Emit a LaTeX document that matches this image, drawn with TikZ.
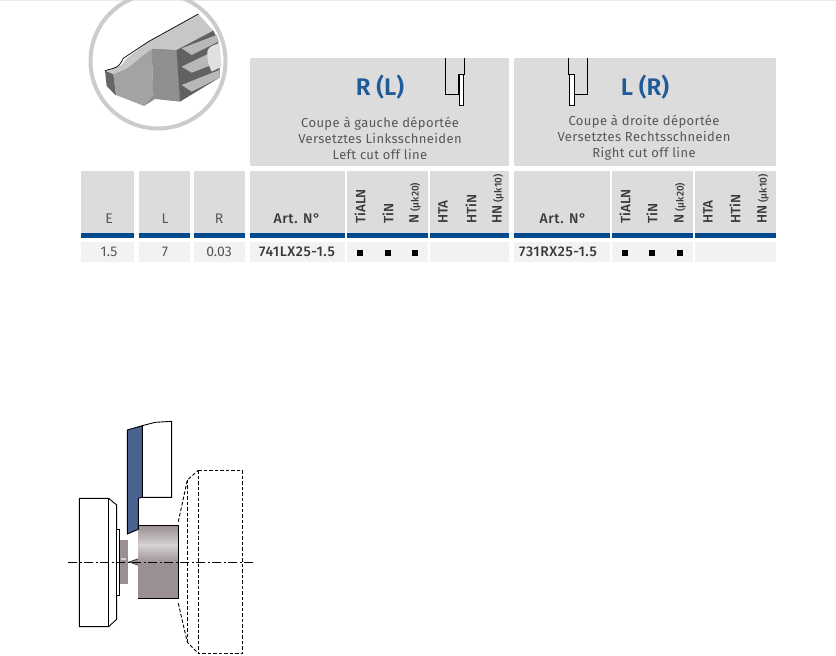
\documentclass[tikz,border=0pt]{standalone}
\usepackage{fontspec}
\setmainfont{Fira Sans}[LetterSpace=3]
\newfontfamily\plainfont{Fira Sans}
\newfontfamily\headfont[LetterSpace=4]{Fira Sans Medium}
\newfontfamily\titlefont{Fira Sans SemiBold}
\newfontfamily\rotfont{Fira Sans Medium}
\definecolor{cellgrey}{HTML}{DCDCDC}
\definecolor{datagrey}{HTML}{F2F2F2}
\definecolor{bandblue}{HTML}{004B8D}
\definecolor{titleblue}{HTML}{1F5A99}
\definecolor{txt}{HTML}{3A3A3A}
\definecolor{toolblue}{HTML}{4A6391}
\definecolor{steel}{HTML}{9A8F91}
\definecolor{steellight}{HTML}{D5D0D1}
\tikzset{
  cell/.style={fill=cellgrey,draw=none},
  band/.style={fill=bandblue,draw=none},
  datacell/.style={fill=datagrey,draw=none},
  body/.style={font=\fontsize{13}{14}\selectfont,text=txt!85,inner sep=0pt,align=center},
  colh/.style={font=\plainfont\fontsize{14}{14}\selectfont,text=txt!85,inner sep=0pt},
  art/.style={font=\headfont\fontsize{14}{14}\selectfont,text=txt,inner sep=0pt},
  rot/.style={font=\rotfont\fontsize{13.5}{14}\selectfont,text=txt,inner sep=0pt,rotate=90,anchor=west},
  bigt/.style={font=\titlefont\fontsize{24}{26}\selectfont,text=titleblue,inner sep=0pt},
  mark cell/.style={fill=black,draw=none,minimum size=6pt,inner sep=0pt},
  ln/.style={draw=black,line width=0.9pt,line join=miter},
  dsh/.style={draw=black,line width=0.9pt,dash pattern=on 3.5pt off 2pt},
}
\newcommand{\cellcol}[2]{%
  \fill[cell] (#1,171) rectangle (#2,233);
  \fill[band] (#1,233) rectangle (#2,238);
  \fill[datacell] (#1,242) rectangle (#2,262);}
\newcommand{\sm}[1]{{\fontsize{10}{12}\selectfont #1}}
\begin{document}
\begin{tikzpicture}[x=1pt,y=-1pt]
\useasboundingbox (0,0) rectangle (836,656);
\fill[white] (0,0) rectangle (836,656);
\fill[black!8] (0,0) rectangle (836,1);
% circular insert picture
\begin{scope}
\clip (0,0) rectangle (836,656);
\draw[line width=4pt,draw=black!20] (158,61) circle[radius=67.5];
\end{scope}
\begin{scope}[shift={(80,0)},x=0.3333pt,y=-0.3333pt]
\fill[black!36] (100,222) -- (140,205) -- (215,145) -- (220,285) -- (192,318) -- (108,285) -- cycle;
\fill[black!60] (75,212) -- (100,222) -- (108,287) -- (80,258) -- cycle;
\fill[black!44] (215,145) -- (295,148) -- (300,305) -- (225,297) -- (192,318) -- (220,285) -- cycle;
\fill[black!22] (78,212) -- (100,205) -- (125,195) -- (140,175) -- (205,125) -- (355,42) -- (400,92) -- (290,150) -- (215,145) -- (140,205) -- (100,222) -- cycle;
\fill[black!62] (290,150) -- (400,92) -- (415,120) -- (420,232) -- (300,305) -- cycle;
\fill[black!28] (305,145) -- (410,105) -- (415,125) -- (335,165) -- cycle;
\fill[black!28] (305,200) -- (388,160) -- (395,195) -- (335,218) -- cycle;
\fill[black!28] (305,255) -- (418,210) -- (420,232) -- (335,275) -- cycle;
\fill[black!12] (382,155) .. controls (385,140) and (400,135) .. (418,130) -- (425,200) -- (395,215) .. controls (385,195) and (380,175) .. (382,155) -- cycle;
\draw[line width=0.7pt] (75,212) -- (100,205) .. controls (118,200) and (122,190) .. (130,175) -- (205,125) -- (355,42);
\end{scope}
% table cells
\fill[cell] (250,58) rectangle (509,166);
\fill[cell] (514,58) rectangle (776,166);
\cellcol{81}{134}
\cellcol{139}{190}
\cellcol{194}{245}
\cellcol{250}{345}
\cellcol{347}{428}
\cellcol{430}{509}
\cellcol{514}{610}
\cellcol{612}{693}
\cellcol{695}{776}
% header texts
\node[bigt] (rl) at (380,87) {R (L)};
\node[bigt] (lr) at (645,87) {L (R)};
\node[body] (t1) at (380,138) {Coupe à gauche déportée\\[2pt]Versetztes Linksschneiden\\[2pt]Left cut off line};
\node[body] (t2) at (644,138) {Coupe à droite déportée\\[2pt]Versetztes Rechtsschneiden\\[2pt]Right cut off line};
% header icons
\draw[ln] (445.3,58) -- (445.3,94) -- (459,94);
\draw[ln] (464,58) -- (464,74) -- (459,74);
\draw[ln,fill=white] (459,74) rectangle (463.5,105);
\draw[line width=1.5pt] (459,74) -- (459,94);
\draw[ln] (568,58) -- (568,74) -- (570,74);
\draw[ln] (587.7,58) -- (587.7,94) -- (574,94);
\draw[ln,fill=white] (569.5,74) rectangle (574.5,105);
\draw[line width=1.5pt] (574.5,74) -- (574.5,94);
% column heads
\node[colh] (e) at (109,219) {E};
\node[colh] (l) at (165,219) {L};
\node[colh] (r) at (219,219) {R};
\node[art] (a1) at (297,219) {Art. N°};
\node[art] (a2) at (563,219) {Art. N°};
\foreach \n/\x/\t in {a/360/TiALN,b/388/TiN,c/415/N \sm{(µk20)},d/443/HTA,f/471/HTiN,g/498/HN \sm{(µk10)},h/625/TiALN,i/652/TiN,j/680/N \sm{(µk20)},k/708/HTA,m/735/HTiN,n/763/HN \sm{(µk10)}}{
  \node[rot] (h\n) at (\x,224) {\t};
}
% data row
\node[colh] (d1) at (109,252) {1.5};
\node[colh] (d2) at (165,252) {7};
\node[colh] (d3) at (219,252) {0.03};
\node[art] (d4) at (297,252) {741LX25-1.5};
\node[art] (d5) at (558,252) {731RX25-1.5};
\foreach \n/\x in {a/360,b/388,c/415,d/625,e/652,f/680}{
  \node[mark cell] (m\n) at (\x,252.5) {};
}
% turning sketch
\begin{scope}[shift={(60,410)},x=0.3333pt,y=-0.3333pt]
\draw[ln,fill=white] (58,265) -- (146,265) -- (170,285) -- (170,628) -- (146,650) -- (58,650) -- cycle;
\draw[ln] (146,265) -- (146,650);
\draw[ln,fill=white] (170,358) rectangle (179,556);
\fill[steel] (179,391) rectangle (203,523);
\fill[steellight] (182,444) rectangle (198,450);
\fill[black!70] (203,456) -- (235,445) -- (235,467) -- cycle;
\fill[steel] (212,456) -- (235,449) -- (235,464) -- cycle;
\draw[ln,fill=white] (247,47) -- (285,37) -- (335,34) -- (335,262) -- (247,262) -- cycle;
\fill[steel] (235,346) rectangle (355,566);
\shade[top color=steel,bottom color=steellight] (235,346) rectangle (355,405);
\shade[top color=steellight,bottom color=steel] (235,405) rectangle (355,460);
\draw[ln] (235,346) -- (355,346) -- (355,566) -- (235,566);
\draw[ln,fill=toolblue] (202,60) -- (247,47) -- (247,262) -- (235,265) -- (235,358) -- (202,372) -- cycle;
\draw[dsh] (355,335) -- (382,210) -- (415,181);
\draw[dsh] (355,580) -- (382,697) -- (415,730);
\draw[dsh] (382,210) -- (382,697);
\draw[dsh] (415,181) rectangle (548,730);
\coordinate (cl) at (25,457);
\coordinate (cr) at (578,457);
\draw[line width=0.8pt,dash pattern=on 9pt off 2.5pt on 2pt off 2.5pt] (cl) -- (cr);
\end{scope}
\end{tikzpicture}
\end{document}
